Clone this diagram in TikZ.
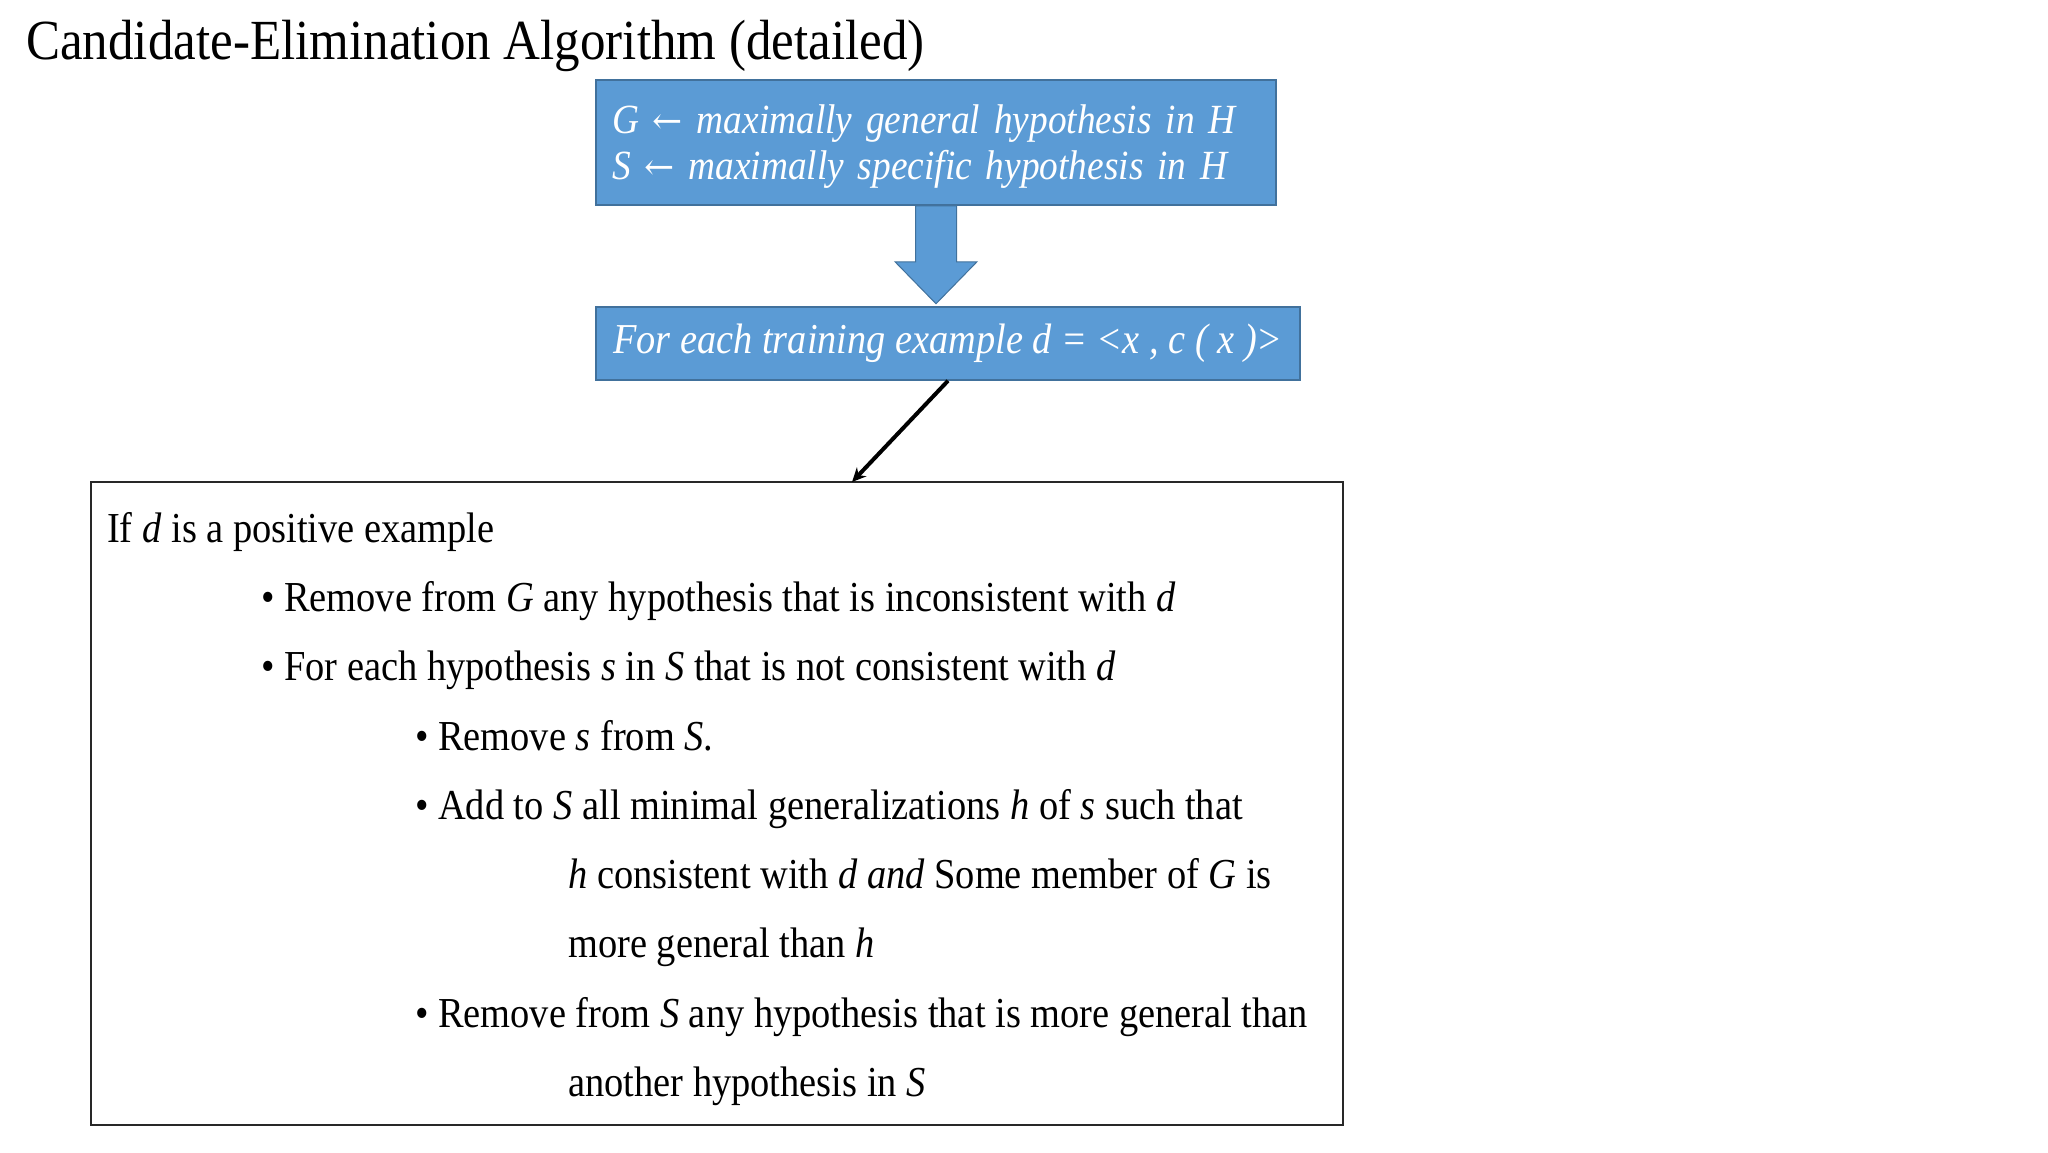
\documentclass[tikz,border=0pt]{standalone}
\usepackage{fontspec}
\setmainfont[FakeStretch=0.9]{Liberation Serif}
\newfontfamily\arrowfont{DejaVu Serif}
\usepackage{tikz}
\usetikzlibrary{arrows.meta, calc}
\definecolor{boxblue}{RGB}{91, 155, 213}
\definecolor{boxedge}{RGB}{65, 113, 156}
\definecolor{frame}{RGB}{40, 40, 40}
\tikzstyle{stepbox} = [rectangle, draw=boxedge, fill=boxblue, line width=1.5pt, text=white, align=left, inner xsep=16pt, font=\itshape\fontsize{41.5}{46}\selectfont]
\tikzstyle{container} = [rectangle, draw=frame, line width=1.5pt, minimum width=1252pt, minimum height=643pt]
\tikzstyle{line} = [anchor=base west, inner sep=0pt, font=\fontsize{42.7}{46}\selectfont]
\tikzstyle{blockarrow} = [draw=boxedge, fill=boxblue, line width=1pt]
\tikzstyle{arrow} = [line width=4pt, -{Stealth[length=14pt, width=13pt]}]
\newcommand{\getsarrow}{{\arrowfont\upshape\fontsize{36}{46}\selectfont ←}}

\begin{document}
\begin{tikzpicture}[x=1pt, y=-1pt]
    \useasboundingbox (0, 0) rectangle (2048, 1152);

    % Title
    \node[anchor=base west, inner sep=0pt, font=\fontsize{56.7}{60}\selectfont] (title) at (26, 59) {Candidate-Elimination Algorithm (detailed)};

    % Initialisation and loop
    \node[stepbox, minimum width=680pt, minimum height=125pt, text width=648pt, text height=36pt] (init) at (936, 142.5) {G \getsarrow{} maximally general hypothesis in H\\S \getsarrow{} maximally specific hypothesis in H};
    \node[stepbox, minimum width=704pt, minimum height=73pt, font=\itshape\fontsize{42.6}{46}\selectfont] (loop) at (948, 343.5) {For each training example d = <x , c ( x )>};

    % Block arrow between the blue boxes
    \draw[blockarrow] ($(init.south)+(-20.5, 0)$) -- ($(init.south)+(20.5, 0)$) -- ($(init.south)+(20.5, 56)$)
        -- ($(init.south)+(41, 56)$) -- ($(init.south)+(0, 98)$) -- ($(init.south)+(-41, 56)$)
        -- ($(init.south)+(-20.5, 56)$) -- cycle;

    % Body of the loop
    \node[container] (body) at (717, 803.5) {};
    \coordinate (entry) at (852, 482);
    \node[line] (pos) at (107, 542) {If \textit{d} is a positive example};
    \node[line] (remg) at (261, 611) {•\hspace{9.5pt}Remove from \textit{G} any hypothesis that is inconsistent with \textit{d}};
    \node[line] (each) at (261, 680) {•\hspace{9.5pt}For each hypothesis \textit{s} in \textit{S} that is not consistent with \textit{d}};
    \node[line] (rems) at (415, 750) {•\hspace{9.5pt}Remove \textit{s} from \textit{S}.};
    \node[line] (add) at (415, 819) {•\hspace{9.5pt}Add to \textit{S} all minimal generalizations \textit{h} of \textit{s} such that};
    \node[line] (cons) at (568, 888) {\textit{h} consistent with \textit{d and} Some member of \textit{G} is};
    \node[line] (gen) at (568, 957) {more general than \textit{h}};
    \node[line] (remmore) at (415, 1027) {•\hspace{9.5pt}Remove from \textit{S} any hypothesis that is more general than};
    \node[line] (another) at (568, 1096) {another hypothesis in \textit{S}};

    % Connections
    \draw[arrow] (loop.south) -- (entry);
\end{tikzpicture}
\end{document}
